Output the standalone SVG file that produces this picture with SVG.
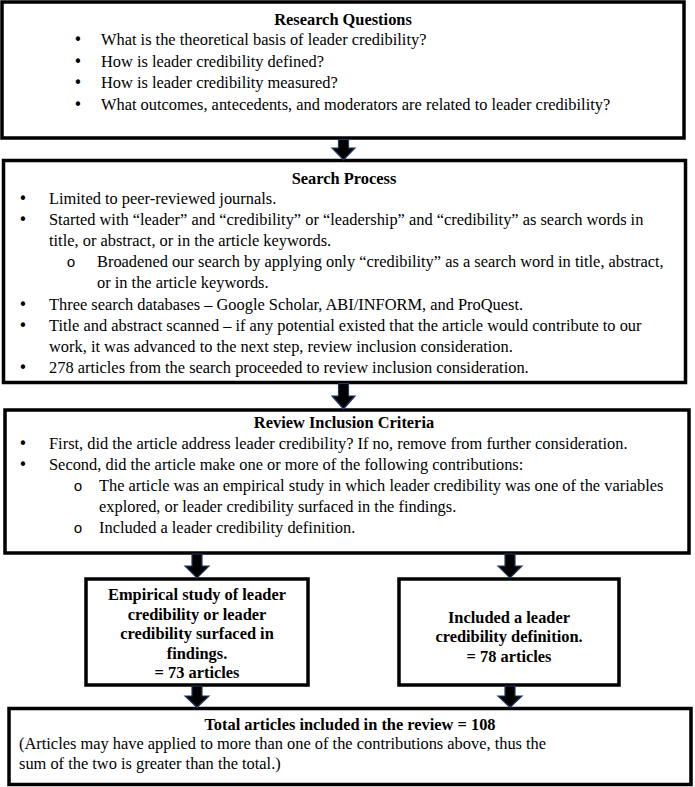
<svg xmlns="http://www.w3.org/2000/svg" width="695" height="787" viewBox="0 0 695 787">
<style>
  .box { fill: #ffffff; stroke: #000000; stroke-width: 3.5; }
  .t { font-family: "Liberation Serif", "Times New Roman", serif; font-size: 16.4px; fill: #000000; }
  .bu { font-family: "DejaVu Sans", "Liberation Sans", sans-serif; font-size: 15px; fill: #000000; text-anchor: middle; }
  .o { font-family: "Liberation Mono", "Courier New", monospace; font-size: 15px; fill: #000000; text-anchor: middle; }
  .b { font-weight: bold; }
  .c { text-anchor: middle; }
  .arrow { fill: #000000; stroke: #1f3864; stroke-width: 1.2; stroke-linejoin: miter; }
</style>
<rect x="0" y="0" width="695" height="787" fill="#ffffff"/>

<g id="research-questions">
  <rect class="box" x="2" y="2" width="682" height="136"/>
  <text class="t b c" x="343" y="25">Research Questions</text>
  <text class="bu" x="78" y="45">•</text><text class="t" x="101" y="45">What is the theoretical basis of leader credibility?</text>
  <text class="bu" x="78" y="67">•</text><text class="t" x="101" y="67">How is leader credibility defined?</text>
  <text class="bu" x="78" y="88">•</text><text class="t" x="101" y="88">How is leader credibility measured?</text>
  <text class="bu" x="78" y="110">•</text><text class="t" x="101" y="110">What outcomes, antecedents, and moderators are related to leader credibility?</text>
</g>

<g id="search-process">
  <rect class="box" x="3.5" y="160.5" width="682" height="222"/>
  <text class="t b c" x="344" y="184">Search Process</text>
  <text class="bu" x="23" y="204">•</text><text class="t" x="49" y="204">Limited to peer-reviewed journals.</text>
  <text class="bu" x="23" y="225">•</text><text class="t" x="49" y="225">Started with “leader” and “credibility” or “leadership” and “credibility” as search words in</text>
  <text class="t" x="49" y="246">title, or abstract, or in the article keywords.</text>
  <text class="o" x="71" y="267">o</text><text class="t" x="97" y="267">Broadened our search by applying only “credibility” as a search word in title, abstract,</text>
  <text class="t" x="97" y="288">or in the article keywords.</text>
  <text class="bu" x="23" y="310">•</text><text class="t" x="49" y="310">Three search databases – Google Scholar, ABI/INFORM, and ProQuest.</text>
  <text class="bu" x="23" y="331">•</text><text class="t" x="49" y="331">Title and abstract scanned – if any potential existed that the article would contribute to our</text>
  <text class="t" x="49" y="352">work, it was advanced to the next step, review inclusion consideration.</text>
  <text class="bu" x="23" y="373">•</text><text class="t" x="49" y="373">278 articles from the search proceeded to review inclusion consideration.</text>
</g>

<g id="review-inclusion-criteria">
  <rect class="box" x="5" y="410" width="684" height="143"/>
  <text class="t b c" x="344" y="428">Review Inclusion Criteria</text>
  <text class="bu" x="23" y="449">•</text><text class="t" x="49" y="449">First, did the article address leader credibility? If no, remove from further consideration.</text>
  <text class="bu" x="23" y="470">•</text><text class="t" x="49" y="470">Second, did the article make one or more of the following contributions:</text>
  <text class="o" x="78" y="491">o</text><text class="t" x="99" y="491">The article was an empirical study in which leader credibility was one of the variables</text>
  <text class="t" x="99" y="512">explored, or leader credibility surfaced in the findings.</text>
  <text class="o" x="78" y="533">o</text><text class="t" x="99" y="533">Included a leader credibility definition.</text>
</g>

<g id="empirical-study">
  <rect class="box" x="86" y="579" width="222" height="106"/>
  <text class="t b c" x="197" y="600">Empirical study of leader</text>
  <text class="t b c" x="197" y="619.5">credibility or leader</text>
  <text class="t b c" x="197" y="639">credibility surfaced in</text>
  <text class="t b c" x="197" y="658.5">findings.</text>
  <text class="t b c" x="197" y="678">= 73 articles</text>
</g>

<g id="definition">
  <rect class="box" x="399" y="579" width="220" height="106"/>
  <text class="t b c" x="509" y="623">Included a leader</text>
  <text class="t b c" x="509" y="642">credibility definition.</text>
  <text class="t b c" x="509" y="662">= 78 articles</text>
</g>

<g id="total">
  <rect class="box" x="9" y="708.5" width="682" height="76"/>
  <text class="t b c" x="350" y="730">Total articles included in the review = 108</text>
  <text class="t" x="19" y="749">(Articles may have applied to more than one of the contributions above, thus the</text>
  <text class="t" x="19" y="769">sum of the two is greater than the total.)</text>
</g>

<g id="connectors">
  <path class="arrow" d="M338.5,139.5 H348.5 V148 H355 L343.5,160 L332,148 H338.5 Z"/>
  <path class="arrow" d="M338.5,383.5 H348.5 V396 H355 L343.5,409 L332,396 H338.5 Z"/>
  <path class="arrow" d="M192,554 H202 V566 H209 L197,578 L185,566 H192 Z"/>
  <path class="arrow" d="M505,554 H515 V566 H522 L510,578 L498,566 H505 Z"/>
  <path class="arrow" d="M192,686 H202 V696 H209 L197,707.5 L185,696 H192 Z"/>
  <path class="arrow" d="M505,686 H515 V696 H522 L510,707.5 L498,696 H505 Z"/>
</g>
</svg>
